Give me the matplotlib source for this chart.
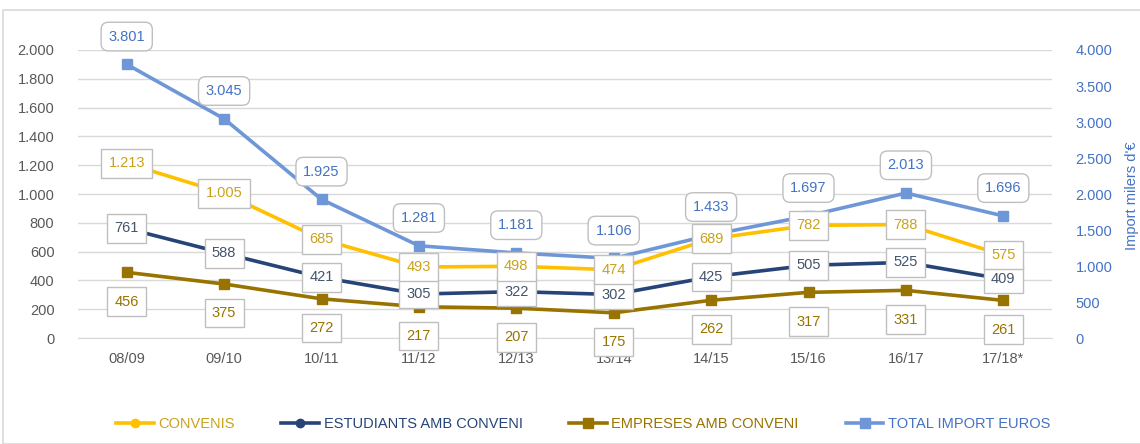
import matplotlib.pyplot as plt
from matplotlib.patches import Rectangle

cursos = ['08/09', '09/10', '10/11', '11/12', '12/13', '13/14', '14/15', '15/16', '16/17', '17/18*']
convenis = [1213, 1005, 685, 493, 498, 474, 689, 782, 788, 575]
estudiants = [761, 588, 421, 305, 322, 302, 425, 505, 525, 409]
empreses = [456, 375, 272, 217, 207, 175, 262, 317, 331, 261]
total_import = [3801, 3045, 1925, 1281, 1181, 1106, 1433, 1697, 2013, 1696]

plt.rcParams['font.family'] = ['Liberation Sans', 'DejaVu Sans']


def fmt(v):
    return '{:,}'.format(v).replace(',', '.')


fig = plt.figure(figsize=(11.4, 4.44), dpi=100)
ax = fig.add_axes([78 / 1140, 106 / 444, (1052 - 78) / 1140, 288 / 444])
ax2 = ax.twinx()

x = list(range(len(cursos)))

c_conv = '#FFC000'
c_est = '#264478'
c_emp = '#997300'
c_tot = '#6F97D8'

l1, = ax.plot(x, convenis, color=c_conv, lw=2.6, marker='o', ms=6, label='CONVENIS', zorder=3)
l2, = ax.plot(x, estudiants, color=c_est, lw=2.6, marker='o', ms=6, label='ESTUDIANTS AMB CONVENI', zorder=3)
l3, = ax.plot(x, empreses, color=c_emp, lw=2.6, marker='s', ms=7, label='EMPRESES AMB CONVENI', zorder=3)
l4, = ax2.plot(x, total_import, color=c_tot, lw=2.6, marker='s', ms=7, label='TOTAL IMPORT EUROS', zorder=2)

ax.set_xlim(-0.5, len(cursos) - 0.5)
ax.set_ylim(0, 2000)
ax2.set_ylim(0, 4000)
ax.set_yticks(range(0, 2001, 200))
ax2.set_yticks(range(0, 4001, 500))
ax.set_yticklabels([fmt(v) for v in range(0, 2001, 200)])
ax2.set_yticklabels([fmt(v) for v in range(0, 4001, 500)])
ax.set_xticks(x)
ax.set_xticklabels(cursos)

ax.grid(axis='y', color='#D9D9D9', lw=1)
ax.set_axisbelow(True)
for a in (ax, ax2):
    for s in a.spines.values():
        s.set_visible(False)
ax.spines['bottom'].set_visible(True)
ax.spines['bottom'].set_color('#D9D9D9')
ax.tick_params(axis='both', length=0, labelsize=10.5, colors='#595959', pad=10)
ax.tick_params(axis='y', pad=17)
ax2.tick_params(axis='y', length=0, labelsize=10.5, colors='#4472C4', pad=17)

box = dict(boxstyle='square,pad=0.5', fc='white', ec='#BFBFBF', lw=1)
rbox = dict(boxstyle='round,pad=0.5,rounding_size=0.5', fc='white', ec='#BFBFBF', lw=1)

# all labels on the twin axes so they sit above every line
left = ax.transData
for i in x:
    ax2.annotate(fmt(total_import[i]), (i, total_import[i]), xytext=(0, 20), textcoords='offset points',
                 ha='center', va='center', fontsize=10.5, color='#4472C4', bbox=rbox, zorder=5,
                 annotation_clip=False)
    ax2.annotate(fmt(empreses[i]), (i, empreses[i]), xycoords=left, xytext=(0, -21),
                 textcoords='offset points', ha='center', va='center', fontsize=10.5,
                 color='#997300', bbox=box, zorder=5)
    ax2.annotate(fmt(estudiants[i]), (i, estudiants[i]), xycoords=left, ha='center', va='center',
                 fontsize=10.5, color='#44546A', bbox=box, zorder=6)
    ax2.annotate(fmt(convenis[i]), (i, convenis[i]), xycoords=left, ha='center', va='center',
                 fontsize=10.5, color='#C9A21C', bbox=box, zorder=6)

fig.text(1132 / 1140, (444 - 196) / 444, "Import milers d'€", rotation=90, ha='center', va='center',
         fontsize=10.5, color='#4472C4')

leg = fig.legend(handles=[l1, l2, l3, l4], loc='center', bbox_to_anchor=(583 / 1140, 20 / 444),
                 ncol=4, frameon=False, fontsize=10.5, handlelength=2.6, columnspacing=3.2,
                 handletextpad=0.3)
for t, c in zip(leg.get_texts(), ['#C9A21C', c_est, c_emp, '#4472C4']):
    t.set_color(c)

fig.patches.append(Rectangle((3 / 1140, 0), 1.0, (444 - 10) / 444, transform=fig.transFigure,
                             fill=False, ec='#D9D9D9', lw=1.2))

fig.savefig('out.png', dpi=100)
